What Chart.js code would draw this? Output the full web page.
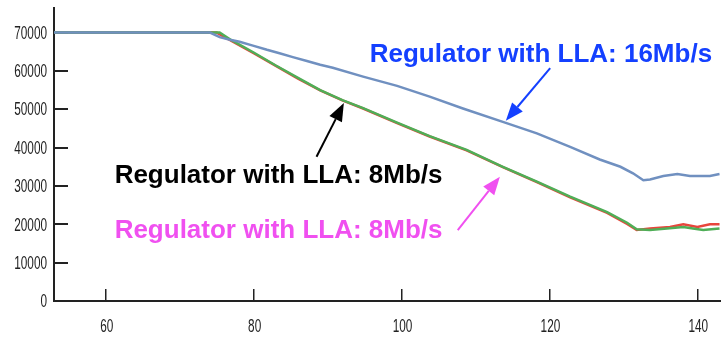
<!DOCTYPE html>
<html>
<head>
<meta charset="utf-8">
<script src="https://cdn.jsdelivr.net/npm/chart.js@4/dist/chart.umd.min.js"></script>
<style>
  html, body { margin: 0; padding: 0; background: #fff; }
  #chart { display: block; }
</style>
</head>
<body>
<canvas id="chart" width="721" height="338"></canvas>
<script>
// tick values
const xTicks = [60, 80, 100, 120, 140];
const yTicks = [0, 10000, 20000, 30000, 40000, 50000, 60000, 70000];

// LLA 16Mb/s (blue)
const blueX = [53, 74.1, 75.4, 76.8, 78.1, 79.9, 81.8, 83.5, 85.3, 87.2, 89.0, 90.7, 94.8, 99.4, 103.8, 108.3, 114.0, 118.3, 122.8, 126.8, 129.6, 131.3, 132.7, 133.6, 135.4, 137.3, 139.0, 141.7, 143];
const blueY = [70000, 70000, 68800, 68100, 67600, 66600, 65500, 64600, 63600, 62600, 61600, 60800, 58500, 56100, 53300, 50200, 46500, 43700, 40200, 36900, 35000, 33300, 31500, 31700, 32600, 33100, 32600, 32600, 33100];

// LLA 8Mb/s (green)
const greenX = [53, 75.4, 77.0, 80.0, 83.0, 86.0, 89.0, 92.0, 94.8, 99.4, 103.8, 108.8, 113.7, 118.3, 122.8, 127.8, 130.5, 131.8, 133.6, 135.9, 138.1, 139.4, 140.8, 143];
const greenY = [70000, 70000, 68000, 64800, 61400, 58200, 55000, 52400, 50300, 46500, 43000, 39400, 35000, 31100, 27200, 23200, 20400, 18700, 18500, 18900, 19300, 18900, 18500, 18900];

// LLA 8Mb/s (red)
const redX = [53, 75.0, 77.0, 80.0, 83.0, 86.0, 89.0, 92.0, 94.8, 99.4, 103.8, 108.8, 113.7, 118.3, 122.8, 127.8, 130.5, 131.8, 133.6, 136.3, 138.1, 140.0, 141.7, 143];
const redY = [70000, 70000, 67800, 64600, 61300, 58000, 54900, 52300, 50200, 46400, 42900, 39300, 34900, 31000, 27000, 23000, 20100, 18500, 18900, 19300, 20000, 19300, 20000, 20000];

const pts = (xs, ys) => xs.map((x, i) => ({ x: x, y: ys[i] }));

// text labels with arrows, placed in data coordinates
const notes = [
  { text: 'Regulator with LLA: 16Mb/s', color: '#1440ff', x: 95.7, y: 62300, from: [120.1, 60700], to: [114.1, 47000] },
  { text: 'Regulator with LLA: 8Mb/s', color: '#000000', x: 61.2, y: 30700, from: [88.5, 37600], to: [92.2, 51600] },
  { text: 'Regulator with LLA: 8Mb/s', color: '#f050f0', x: 61.2, y: 16300, from: [107.6, 18500], to: [113.3, 32400] }
];

const notesPlugin = {
  id: 'notes',
  afterDatasetsDraw(chart) {
    const ctx = chart.ctx;
    const sx = chart.scales.x, sy = chart.scales.y;
    ctx.save();
    ctx.font = 'bold 26px "Liberation Sans", Arial, sans-serif';
    ctx.textBaseline = 'alphabetic';
    ctx.textAlign = 'left';
    notes.forEach(n => {
      ctx.fillStyle = n.color;
      ctx.strokeStyle = n.color;
      ctx.fillText(n.text, sx.getPixelForValue(n.x), sy.getPixelForValue(n.y));
      const x1 = sx.getPixelForValue(n.from[0]), y1 = sy.getPixelForValue(n.from[1]);
      const x2 = sx.getPixelForValue(n.to[0]), y2 = sy.getPixelForValue(n.to[1]);
      const a = Math.atan2(y2 - y1, x2 - x1);
      const len = 18, half = 7;
      const bx = x2 - len * Math.cos(a), by = y2 - len * Math.sin(a);
      ctx.lineWidth = 2;
      ctx.beginPath();
      ctx.moveTo(x1, y1);
      ctx.lineTo(bx, by);
      ctx.stroke();
      ctx.beginPath();
      ctx.moveTo(x2, y2);
      ctx.lineTo(bx + half * Math.sin(a), by - half * Math.cos(a));
      ctx.lineTo(bx - half * Math.sin(a), by + half * Math.cos(a));
      ctx.closePath();
      ctx.fill();
    });
    ctx.restore();
  }
};

// the original tick labels use a tall, narrow face: draw them squeezed sideways
const squeeze = 0.62;
const tickLabelsPlugin = {
  id: 'tickLabels',
  afterDraw(chart) {
    const ctx = chart.ctx;
    const sx = chart.scales.x, sy = chart.scales.y;
    ctx.save();
    ctx.font = '19px "Liberation Sans", Arial, sans-serif';
    ctx.fillStyle = '#222';
    ctx.textBaseline = 'middle';
    ctx.scale(squeeze, 1);
    ctx.textAlign = 'right';
    sy.ticks.forEach(t => {
      ctx.fillText(String(t.value), 47 / squeeze, sy.getPixelForValue(t.value) + 1);
    });
    ctx.textAlign = 'center';
    sx.ticks.forEach(t => {
      ctx.fillText(String(t.value), (sx.getPixelForValue(t.value) + 1) / squeeze, 327);
    });
    ctx.restore();
  }
};

new Chart(document.getElementById('chart'), {
  type: 'line',
  data: {
    datasets: [
      { label: 'LLA 16Mb/s', data: pts(blueX, blueY), borderColor: '#7090c0', borderWidth: 2.5 },
      { label: 'LLA 8Mb/s', data: pts(greenX, greenY), borderColor: '#4fae57', borderWidth: 2.5 },
      { label: 'LLA 8Mb/s (2)', data: pts(redX, redY), borderColor: '#e8453c', borderWidth: 2.5 }
    ]
  },
  options: {
    responsive: false,
    animation: false,
    parsing: false,
    layout: { padding: { top: 8, right: 0, left: 0, bottom: 0 } },
    elements: { point: { radius: 0 }, line: { tension: 0 } },
    plugins: { legend: { display: false }, tooltip: { enabled: false } },
    scales: {
      x: {
        type: 'linear',
        min: 53,
        max: 143.2,
        afterBuildTicks: s => { s.ticks = xTicks.map(v => ({ value: v })); },
        afterFit: s => { s.height = 37; s.paddingLeft = 0; s.paddingRight = 0; },
        border: { color: '#222', width: 2 },
        grid: { drawOnChartArea: false, color: '#222', lineWidth: 1.5, tickLength: -12 },
        ticks: { display: false }
      },
      y: {
        type: 'linear',
        min: 0,
        max: 76400,
        afterBuildTicks: s => { s.ticks = yTicks.map(v => ({ value: v })); },
        afterFit: s => { s.width = 54; s.paddingTop = 0; s.paddingBottom = 0; },
        border: { color: '#222', width: 2 },
        grid: { drawOnChartArea: false, color: '#222', lineWidth: 2, tickLength: -14 },
        ticks: { display: false }
      }
    }
  },
  plugins: [notesPlugin, tickLabelsPlugin]
});
</script>
</body>
</html>
